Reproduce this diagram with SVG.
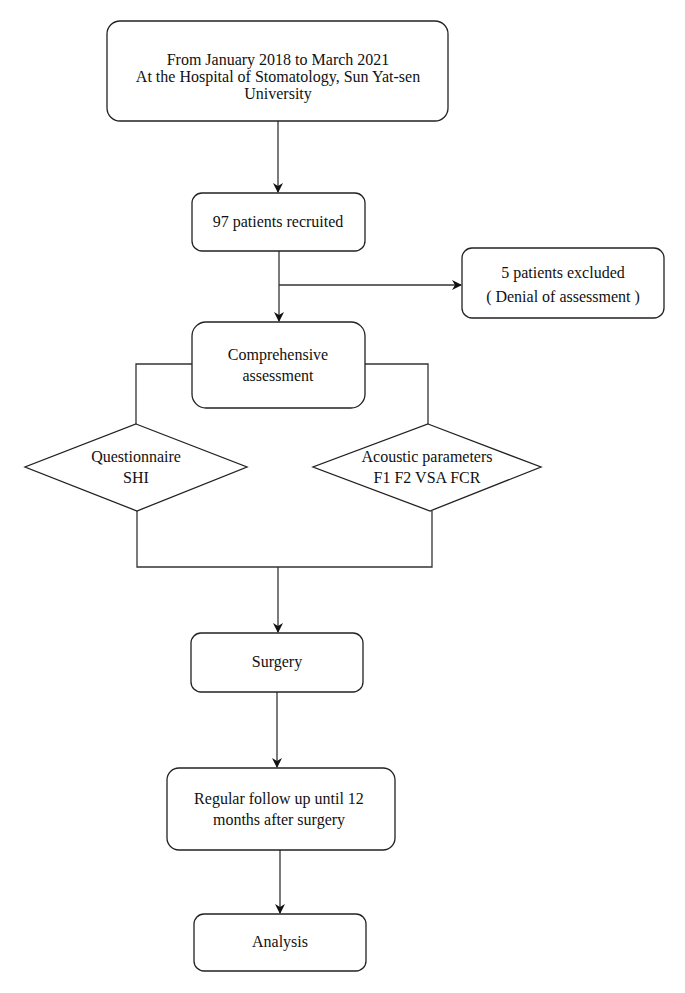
<svg xmlns="http://www.w3.org/2000/svg" width="685" height="993" viewBox="0 0 685 993">
<style>
.box{fill:#fff;stroke:#222;stroke-width:1.3}
.t{font-family:"Liberation Serif","DejaVu Serif",serif;font-size:16px;fill:#111;text-anchor:middle}
.c{fill:none;stroke:#333;stroke-width:1.3}
</style>
<defs>
<marker id="ah" markerWidth="10" markerHeight="10" refX="9" refY="5" orient="auto" markerUnits="userSpaceOnUse">
<path d="M0,0 L10,5 L0,10 L3,5 Z" fill="#111"/>
</marker>
</defs>
<rect width="685" height="993" fill="#fff"/>
<g id="connectors">
<line class="c" x1="278" y1="121" x2="278" y2="192" marker-end="url(#ah)"/>
<line class="c" x1="279" y1="251" x2="279" y2="321" marker-end="url(#ah)"/>
<line class="c" x1="279" y1="285" x2="461" y2="285" marker-end="url(#ah)"/>
<polyline class="c" points="192,364 136,364 136,424"/>
<polyline class="c" points="365,364 428,364 428,424"/>
<polyline class="c" points="137,511 137,567 432,567 432,511"/>
<line class="c" x1="278" y1="567" x2="278" y2="632" marker-end="url(#ah)"/>
<line class="c" x1="277" y1="692" x2="277" y2="767" marker-end="url(#ah)"/>
<line class="c" x1="280" y1="850" x2="280" y2="913" marker-end="url(#ah)"/>
</g>
<g id="n1">
<rect class="box" x="107" y="21" width="341" height="100" rx="13"/>
<text class="t" x="278" y="65">From January 2018 to March 2021</text>
<text class="t" x="278" y="82">At the Hospital of Stomatology, Sun Yat-sen</text>
<text class="t" x="278" y="99">University</text>
</g>
<g id="n2">
<rect class="box" x="192" y="193" width="173" height="58" rx="10"/>
<text class="t" x="278" y="227">97 patients recruited</text>
</g>
<g id="n3">
<rect class="box" x="462" y="248" width="202" height="70" rx="10"/>
<text class="t" x="563" y="278">5 patients excluded</text>
<text class="t" x="563" y="302">( Denial of assessment )</text>
</g>
<g id="n4">
<rect class="box" x="192" y="322" width="173" height="86" rx="14"/>
<text class="t" x="278" y="360">Comprehensive</text>
<text class="t" x="278" y="381">assessment</text>
</g>
<g id="n5">
<polygon class="box" points="136,424 247,467 137,511 25,467"/>
<text class="t" x="136" y="462">Questionnaire</text>
<text class="t" x="136" y="483">SHI</text>
</g>
<g id="n6">
<polygon class="box" points="428,424 541,467 430,511 313,467"/>
<text class="t" x="427" y="462">Acoustic parameters</text>
<text class="t" x="427" y="483">F1 F2 VSA FCR</text>
</g>
<g id="n7">
<rect class="box" x="191" y="633" width="172" height="59" rx="10"/>
<text class="t" x="277" y="667">Surgery</text>
</g>
<g id="n8">
<rect class="box" x="167" y="768" width="228" height="82" rx="12"/>
<text class="t" x="279" y="804">Regular follow up until 12</text>
<text class="t" x="279" y="825">months after surgery</text>
</g>
<g id="n9">
<rect class="box" x="194" y="914" width="172" height="57" rx="10"/>
<text class="t" x="280" y="947">Analysis</text>
</g>
</svg>
